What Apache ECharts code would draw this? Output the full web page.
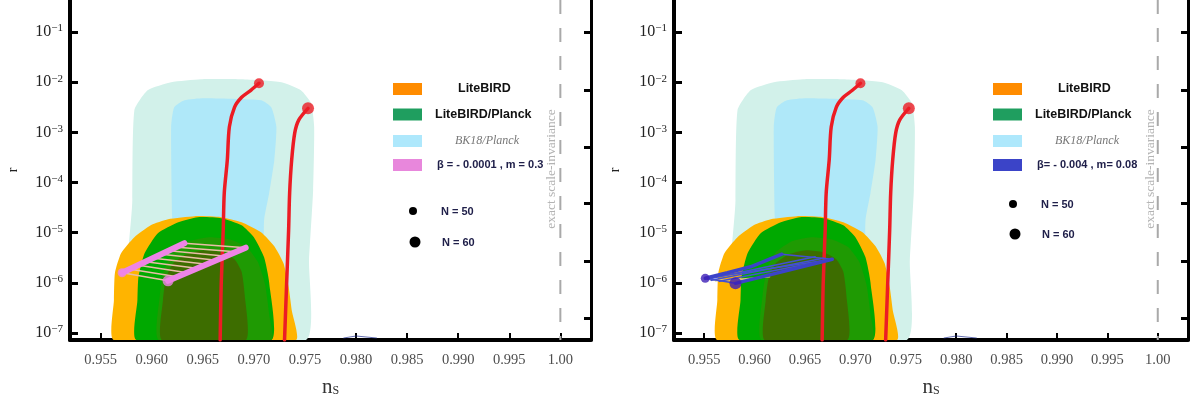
<!DOCTYPE html>
<html>
<head>
<meta charset="utf-8">
<script src="https://cdn.jsdelivr.net/npm/echarts@6/dist/echarts.min.js"></script>
<style>
  html, body { margin: 0; padding: 0; background: #fff; }
  #chart { width: 1192px; height: 408px; }
</style>
</head>
<body>
<div id="chart"></div>
<script>
// tick values (ns) and labels
const xTicks = [0.955, 0.96, 0.965, 0.97, 0.975, 0.98, 0.985, 0.99, 0.995, 1.0];
const xTickLabels = ['0.955', '0.960', '0.965', '0.970', '0.975', '0.980', '0.985', '0.990', '0.995', '1.00'];
// y is log10(r)
const yTicks = [-7, -6, -5, -4, -3, -2, -1];
const yTickExp = ['\u22127', '\u22126', '\u22125', '\u22124', '\u22123', '\u22122', '\u22121'];
const frameTicks = [-1, -2.16, -3.29, -4.41, -5.56, -6.7];

// contours [ns, log10 r]
const bk18Outer = [[0.9580, -7.14], [0.9581, -4.35], [0.9583, -2.56], [0.9596, -2.16], [0.9619, -2.0], [0.9648, -1.94],
  [0.9688, -1.94], [0.9727, -2.0], [0.9746, -2.16], [0.9756, -2.42], [0.9759, -2.89], [0.9758, -4.15], [0.9754, -5.55], [0.9751, -7.14]];
const bk18Inner = [[0.9624, -7.14], [0.9620, -4.69], [0.9619, -2.89], [0.9622, -2.50], [0.9632, -2.36], [0.9651, -2.32],
  [0.9707, -2.36], [0.9717, -2.50], [0.9722, -2.89], [0.9720, -3.55], [0.9715, -4.21], [0.9710, -4.75], [0.9705, -7.14]];
const liteBird = [[0.9563, -7.14], [0.9563, -6.34], [0.9564, -5.80], [0.9570, -5.41], [0.9583, -5.09], [0.9599, -4.85],
  [0.9616, -4.73], [0.9642, -4.67], [0.9668, -4.69], [0.9688, -4.79], [0.9707, -4.99], [0.9720, -5.27], [0.9729, -5.61],
  [0.9734, -6.08], [0.9737, -6.54], [0.9741, -7.14]];
const liteBirdPlanck = [[0.9585, -7.14], [0.9586, -6.34], [0.9587, -5.88], [0.9593, -5.41], [0.9606, -5.01], [0.9626, -4.79],
  [0.9645, -4.69], [0.9668, -4.71], [0.9688, -4.85], [0.9700, -5.09], [0.9710, -5.49], [0.9715, -6.00], [0.9717, -7.14]];
const liteBirdPlanckMid = [[0.9607, -7.14], [0.9608, -6.24], [0.9612, -5.74], [0.9621, -5.39], [0.9637, -5.17], [0.9656, -5.09],
  [0.9676, -5.13], [0.9693, -5.29], [0.9704, -5.59], [0.9711, -6.04], [0.9715, -6.64], [0.9717, -7.14]];
const liteBirdPlanckCore = [[0.9610, -7.14], [0.9611, -6.34], [0.9614, -5.90], [0.9621, -5.61], [0.9634, -5.43], [0.9651, -5.35],
  [0.9668, -5.39], [0.9681, -5.53], [0.9688, -5.78], [0.9691, -6.24], [0.9692, -7.14]];

// red model curves
const red1 = [[0.9667, -7.14], [0.9668, -6.04], [0.9670, -4.95], [0.9671, -4.21], [0.9674, -3.55], [0.9676, -2.89],
  [0.9681, -2.50], [0.9688, -2.30], [0.9697, -2.16], [0.9705, -2.02]];
const red2 = [[0.9730, -7.14], [0.9732, -6.04], [0.9734, -4.95], [0.9735, -4.21], [0.9737, -3.55], [0.9740, -3.01],
  [0.9744, -2.75], [0.9753, -2.52]];

// left panel: beta = -0.0001, m = 0.3
const pinkN50 = [[0.9571, -5.80], [0.9632, -5.21]];
const pinkN60 = [[0.9616, -5.96], [0.9692, -5.30]];
const pinkRungs = [
  [[0.9571, -5.80], [0.9616, -5.96]], [[0.9579, -5.73], [0.9625, -5.88]], [[0.9587, -5.65], [0.9635, -5.80]],
  [[0.9594, -5.58], [0.9644, -5.71]], [[0.9602, -5.51], [0.9654, -5.63]], [[0.9610, -5.43], [0.9663, -5.55]],
  [[0.9617, -5.36], [0.9673, -5.47]], [[0.9625, -5.29], [0.9682, -5.38]], [[0.9632, -5.21], [0.9692, -5.30]]
];

// right panel: beta = -0.004, m = 0.08
const blueN50 = [[0.9551, -5.91], [0.9573, -5.80], [0.9596, -5.68], [0.9627, -5.43]];
const blueN60 = [[0.9581, -6.01], [0.9677, -5.53]];
const blueFan = [
  [[0.9551, -5.91], [0.9677, -5.53]], [[0.9553, -5.93], [0.9660, -5.48]], [[0.9557, -5.95], [0.9668, -5.51]],
  [[0.9565, -5.97], [0.9672, -5.55]], [[0.9627, -5.43], [0.9677, -5.53]], [[0.9551, -5.91], [0.9581, -6.01]]
];
const blueTan = [[[0.9556, -5.94], [0.9598, -5.93]], [[0.9561, -5.96], [0.9615, -5.88]]];

const scaleInvariance = [[1.0, -0.36], [1.0, -7.14]];
const navyBits = [[0.9788, -7.10], [0.9800, -7.06], [0.9820, -7.10]];

const SERIF = '"Liberation Serif", "DejaVu Serif", serif';
const SANS = '"Liberation Sans", Arial, sans-serif';

const chart = echarts.init(document.getElementById('chart'));

function region(pts, color, g) {
  return {
    type: 'custom', xAxisIndex: g, yAxisIndex: g * 2, clip: true, silent: true, z: 1,
    data: pts,
    renderItem: (params, api) => params.dataIndex !== 0 ? null : {
      type: 'polygon',
      shape: { points: pts.map(p => api.coord(p)), smooth: 0.18 },
      style: { fill: color }
    }
  };
}

function line(data, color, width, g, z, smooth) {
  return {
    type: 'line', xAxisIndex: g, yAxisIndex: g * 2, data: data, showSymbol: false, silent: true,
    smooth: smooth || false, z: z, clip: true,
    lineStyle: { color: color, width: width, cap: 'round' }
  };
}

function dots(data, sizes, color, g) {
  return {
    type: 'scatter', xAxisIndex: g, yAxisIndex: g * 2, silent: true, z: 6,
    data: data.map((d, i) => ({ value: d, symbolSize: sizes[i] })),
    itemStyle: { color: color }
  };
}

function panelSeries(g) {
  const s = [
    region(bk18Outer, '#d2f1ea', g),
    region(bk18Inner, '#afe8f9', g),
    region(liteBird, '#ffb400', g),
    region(liteBirdPlanck, '#00a900', g),
    region(liteBirdPlanckMid, '#1f9a03', g),
    region(liteBirdPlanckCore, '#3d6d00', g),
    line(red1, '#ec1c24', 3.5, g, 4, 0.3),
    line(red2, '#ec1c24', 3.5, g, 4, 0.3),
    dots([red1[red1.length - 1], red2[red2.length - 1]], [10, 12], '#ec1c24', g),
    line(navyBits, 'rgba(34,48,143,0.7)', 1, g, 3),
    {
      type: 'line', xAxisIndex: g, yAxisIndex: g * 2, data: scaleInvariance, showSymbol: false, silent: true, z: 2,
      lineStyle: { color: '#a9a9a9', width: 2, type: [14, 14] }
    }
  ];
  if (g === 0) {
    pinkRungs.forEach(r => s.push(line(r, '#e8bea6', 1.5, g, 5)));
    s.push(line(pinkN50, '#ee84e6', 6, g, 5));
    s.push(line(pinkN60, '#ee84e6', 6, g, 5));
    s.push(dots([pinkN50[0], pinkN60[0]], [9, 11], '#ee84e6', g));
  } else {
    blueTan.forEach(r => s.push(line(r, '#d9c27a', 1.2, g, 5)));
    blueFan.forEach(r => s.push(line(r, '#4350d2', 1.6, g, 5)));
    s.push(line(blueN50, '#3c43c8', 3.5, g, 5));
    s.push(line(blueN60, '#3c43c8', 3.5, g, 5));
    s.push(dots([blueN50[0], blueN60[0]], [9, 12], '#3d1fb6', g));
  }
  return s;
}

function xAxisFor(g) {
  return {
    type: 'value', gridIndex: g, min: 0.952, max: 1.003,
    name: '{n|n}{s|S}', nameLocation: 'middle', nameGap: 37,
    nameTextStyle: {
      rich: {
        n: { fontFamily: SERIF, fontSize: 21, color: '#333', lineHeight: 20 },
        s: { fontFamily: SERIF, fontSize: 12, color: '#333', lineHeight: 6, verticalAlign: 'bottom' }
      }
    },
    axisLine: { show: true, onZero: false, lineStyle: { color: '#000', width: 4 } },
    axisTick: { show: true, inside: true, length: 7, customValues: xTicks, lineStyle: { color: '#000', width: 2 } },
    axisLabel: {
      customValues: xTicks, margin: 13, fontFamily: SERIF, fontSize: 14.5, color: '#4d4d4d',
      formatter: v => xTickLabels[xTicks.findIndex(t => Math.abs(t - v) < 1e-9)]
    },
    splitLine: { show: false }
  };
}

function yAxesFor(g) {
  return [{
    type: 'value', gridIndex: g, min: -7.14, max: -0.36, position: 'left',
    name: 'r', nameLocation: 'middle', nameRotate: 90, nameGap: g === 0 ? 50 : 52,
    nameTextStyle: { fontFamily: SERIF, fontSize: 14, color: '#222' },
    axisLine: { show: true, onZero: false, lineStyle: { color: '#000', width: 4 } },
    axisTick: { show: true, inside: true, length: 8, customValues: yTicks, lineStyle: { color: '#000', width: 3 } },
    axisLabel: {
      customValues: yTicks, margin: 7,
      formatter: v => '{b|10}{s|' + yTickExp[yTicks.indexOf(v)] + '}',
      rich: {
        b: { fontFamily: SERIF, fontSize: 16, color: '#222', lineHeight: 18 },
        s: { fontFamily: SERIF, fontSize: 11, color: '#222', lineHeight: 8, verticalAlign: 'top' }
      }
    },
    splitLine: { show: false }
  }, {
    type: 'value', gridIndex: g, min: -7.14, max: -0.36, position: 'right',
    axisLine: { show: true, onZero: false, lineStyle: { color: '#000', width: 3 } },
    axisTick: { show: true, inside: true, length: 7, customValues: frameTicks, lineStyle: { color: '#000', width: 3 } },
    axisLabel: { show: false },
    splitLine: { show: false }
  }];
}

function legendGraphic(dx, betaText, betaColor, n50y, n60y) {
  const rows = [89, 114.5, 141, 165];
  const sw = ['#ff8c00', '#1f9e5f', '#aee8fc', betaColor];
  const els = [];
  rows.forEach((y, i) => els.push({
    type: 'rect', shape: { x: 393 + dx, y: y - 6, width: 29, height: 12 }, style: { fill: sw[i] }
  }));
  const txt = (x, y, text, font, fill) => ({
    type: 'text', x: x + dx, y: y,
    style: { text: text, font: font, fill: fill, align: 'left', verticalAlign: 'middle' }
  });
  els.push(txt(458, rows[0], 'LiteBIRD', 'bold 12.5px ' + SANS, '#111'));
  els.push(txt(435, rows[1], 'LiteBIRD/Planck', 'bold 12.5px ' + SANS, '#111'));
  els.push(txt(455, rows[2], 'BK18/Planck', 'italic 12px ' + SERIF, '#777'));
  els.push(txt(437, rows[3], betaText, '600 11px ' + SANS, '#20204a'));
  els.push({ type: 'circle', shape: { cx: 413 + dx, cy: n50y, r: 4 }, style: { fill: '#000' } });
  els.push({ type: 'circle', shape: { cx: 415 + dx, cy: n60y, r: 5.5 }, style: { fill: '#000' } });
  els.push(txt(441, n50y + 1, 'N = 50', '600 11px ' + SANS, '#20204a'));
  els.push(txt(442, n60y + 1, 'N = 60', '600 11px ' + SANS, '#20204a'));
  return els;
}

function invarianceText(x) {
  return {
    type: 'text', x: x, y: 169, rotation: Math.PI / 2,
    style: { text: 'exact scale-invariance', font: '13.5px ' + SERIF, fill: '#b3b3b3', align: 'center', verticalAlign: 'middle' }
  };
}

const option = {
  backgroundColor: '#fff',
  animation: false,
  grid: [
    { left: 70, top: 0, width: 521, height: 340 },
    { left: 674, top: 0, width: 514, height: 340 }
  ],
  xAxis: [xAxisFor(0), xAxisFor(1)],
  yAxis: [...yAxesFor(0), ...yAxesFor(1)],
  series: [...panelSeries(0), ...panelSeries(1)],
  graphic: [
    ...legendGraphic(0, '\u03b2 = - 0.0001 , m = 0.3', '#e887dc', 211, 242),
    ...legendGraphic(600, '\u03b2= - 0.004 , m= 0.08', '#3b44c8', 204, 234),
    invarianceText(551),
    invarianceText(1150)
  ]
};

chart.setOption(option);
</script>
</body>
</html>
